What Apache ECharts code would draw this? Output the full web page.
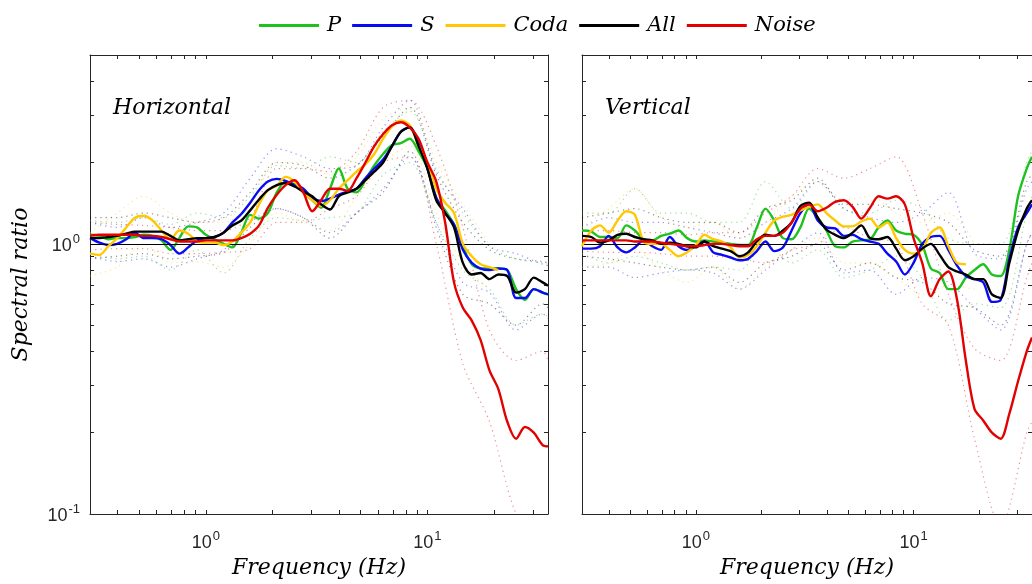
<!DOCTYPE html>
<html><head><meta charset="utf-8">
<script src="https://cdn.jsdelivr.net/npm/echarts@6/dist/echarts.min.js"></script>
<style>html,body{margin:0;padding:0;background:#fff}#c{width:1032px;height:584px}</style>
</head><body><div id="c"></div>
<script>
// Frequency sampling (Hz) for the mean curves
const freq = [0.3,0.331,0.363,0.398,0.437,0.479,0.525,0.575,0.631,0.692,0.759,0.832,0.912,1.0,1.096,1.202,1.318,1.445,1.585,1.738,1.905,2.089,2.291,2.512,2.754,3.020,3.311,3.631,3.981,4.365,4.786,5.248,5.754,6.310,6.918,7.586,8.318,9.120,10.0,10.96,12.02,13.18,14.45,15.85,17.38,19.05,20.89,22.91,25.12,27.54,30.20,33.11,35.0];
// Frequency sampling (Hz) for the dotted spread curves
const freqBand = [0.3,0.398,0.525,0.692,0.912,1.202,1.585,2.089,2.754,3.631,4.786,6.310,8.318,10.96,14.45,19.05,25.12,33.11,35.0];

// Horizontal panel
const hP = [1.08,1.07,1.04,1.05,1.05,1.06,1.08,1.07,1.03,0.95,1.05,1.16,1.15,1.08,1.04,1.0,0.97,1.1,1.28,1.24,1.30,1.55,1.70,1.66,1.55,1.45,1.36,1.6,1.9,1.6,1.55,1.72,1.95,2.15,2.32,2.36,2.45,2.2,1.9,1.48,1.33,1.18,0.98,0.84,0.81,0.81,0.81,0.80,0.68,0.62,0.68,0.66,0.65];
const hS = [1.05,1.01,0.99,1.0,1.04,1.1,1.05,1.05,1.04,0.99,0.92,0.97,1.03,1.05,1.06,1.1,1.2,1.29,1.42,1.58,1.7,1.74,1.71,1.65,1.6,1.48,1.44,1.47,1.52,1.56,1.6,1.75,1.9,2.05,2.3,2.6,2.7,2.35,1.9,1.48,1.3,1.18,0.95,0.85,0.81,0.8,0.81,0.8,0.63,0.63,0.68,0.66,0.65];
const hCoda = [0.92,0.91,0.98,1.05,1.15,1.25,1.27,1.22,1.12,1.04,1.12,1.09,1.02,1.01,1.01,0.99,1.02,1.1,1.2,1.4,1.58,1.64,1.77,1.70,1.55,1.45,1.38,1.45,1.6,1.72,1.85,1.97,2.15,2.45,2.72,2.86,2.75,2.3,2.0,1.6,1.42,1.3,1.0,0.9,0.84,0.82,0.80];
const hAll = [1.05,1.05,1.06,1.07,1.09,1.11,1.11,1.11,1.11,1.07,1.03,1.04,1.05,1.05,1.06,1.10,1.17,1.22,1.33,1.46,1.58,1.65,1.68,1.63,1.56,1.5,1.4,1.34,1.5,1.55,1.6,1.72,1.85,2.0,2.3,2.6,2.7,2.3,1.9,1.45,1.3,1.15,0.85,0.77,0.78,0.74,0.77,0.76,0.66,0.68,0.75,0.72,0.70];
const hNoise = [1.07,1.08,1.08,1.08,1.08,1.08,1.07,1.07,1.06,1.04,1.02,1.02,1.02,1.03,1.03,1.03,1.03,1.05,1.09,1.17,1.36,1.52,1.65,1.72,1.55,1.32,1.45,1.6,1.6,1.57,1.75,2.0,2.3,2.55,2.75,2.82,2.7,2.45,2.0,1.7,1.2,0.72,0.58,0.52,0.44,0.34,0.29,0.22,0.19,0.21,0.2,0.18,0.178];

const hPUp = [1.22,1.2,1.25,1.18,1.3,1.25,1.5,1.95,1.9,2.1,2.0,2.6,3.1,1.9,1.3,0.98,0.88,0.85,0.84];
const hPLo = [0.92,0.88,0.9,0.8,0.95,0.78,1.05,1.25,1.22,1.25,1.3,1.8,2.0,1.2,0.8,0.68,0.5,0.55,0.54];
const hSUp = [1.2,1.15,1.25,1.15,1.2,1.3,1.75,2.25,2.1,1.9,1.95,2.7,3.4,1.85,1.35,0.98,0.92,0.84,0.83];
const hSLo = [0.9,0.86,0.88,0.82,0.88,0.95,1.2,1.35,1.25,1.1,1.3,1.6,2.1,1.2,0.72,0.66,0.48,0.55,0.53];
const hCodaUp = [1.1,1.3,1.5,1.3,1.2,1.2,1.4,2.0,2.0,1.8,2.1,2.9,3.2,2.0,1.4,1.0];
const hCodaLo = [0.76,0.82,1.0,0.85,0.86,0.82,1.0,1.3,1.2,1.12,1.5,2.0,2.3,1.3,0.85,0.68];
const hAllUp = [1.25,1.25,1.3,1.25,1.2,1.25,1.55,2.0,1.95,1.75,1.95,2.5,3.2,1.8,1.2,0.95,0.88,0.86,0.85];
const hAllLo = [0.88,0.9,0.92,0.88,0.9,0.93,1.15,1.35,1.25,1.05,1.3,1.55,2.2,1.15,0.65,0.6,0.5,0.6,0.58];
const hNoiseUp = [1.2,1.18,1.17,1.15,1.12,1.12,1.25,1.9,1.9,1.85,2.2,3.2,3.4,2.3,1.15,0.48,0.37,0.4,0.37];
const hNoiseLo = [0.95,0.96,0.96,0.92,0.92,0.93,0.96,1.2,1.2,1.35,1.5,2.0,2.1,1.0,0.36,0.22,0.1,0.075,0.07];

// Vertical panel
const vP = [1.12,1.11,1.06,1.06,1.05,1.17,1.12,1.04,1.03,1.07,1.09,1.12,1.05,1.02,1.03,1.02,1.01,1.0,0.99,0.99,1.15,1.35,1.22,1.05,1.04,1.15,1.35,1.25,1.12,0.98,0.97,1.02,1.03,1.04,1.15,1.22,1.12,1.09,1.08,0.99,0.81,0.78,0.68,0.68,0.75,0.8,0.84,0.77,0.76,0.95,1.5,1.9,2.1];
const vS = [0.96,0.96,0.98,1.07,0.97,0.93,0.97,1.03,0.98,0.95,1.06,0.98,0.95,0.98,1.02,0.93,0.91,0.89,0.87,0.88,0.94,1.02,0.94,0.97,1.12,1.3,1.4,1.22,1.15,1.14,1.07,1.08,1.04,1.02,1.0,0.92,0.86,0.77,0.85,1.0,1.06,1.07,0.95,0.83,0.76,0.74,0.72,0.61,0.62,0.88,1.15,1.3,1.4];
const vCoda = [0.98,1.12,1.17,1.1,1.22,1.32,1.28,1.02,1.0,1.0,0.95,0.9,0.93,0.99,1.08,1.04,1.02,0.97,0.89,0.91,0.98,1.1,1.22,1.26,1.28,1.33,1.37,1.4,1.3,1.22,1.16,1.16,1.21,1.24,1.15,1.2,1.05,0.95,0.92,0.95,1.1,1.15,0.98,0.85,0.84];
const vAll = [1.07,1.06,1.01,1.03,1.08,1.09,1.06,1.04,1.03,1.0,1.01,1.0,0.98,0.97,1.02,0.98,0.96,0.94,0.9,0.93,1.02,1.08,1.07,1.12,1.2,1.38,1.42,1.25,1.13,1.08,1.05,1.1,1.17,1.05,1.04,1.06,0.96,0.87,0.9,0.96,1.0,0.91,0.82,0.79,0.77,0.74,0.74,0.65,0.63,0.85,1.12,1.35,1.45];
const vNoise = [1.03,1.03,1.03,1.03,1.03,1.03,1.02,1.02,1.02,1.01,1.0,0.99,0.98,0.98,0.99,1.0,1.0,0.99,0.98,0.98,1.04,1.07,1.07,1.1,1.2,1.35,1.4,1.32,1.36,1.43,1.45,1.37,1.24,1.36,1.5,1.47,1.5,1.4,1.05,0.85,0.64,0.74,0.79,0.62,0.37,0.245,0.222,0.2,0.19,0.235,0.31,0.4,0.45];

const vPUp = [1.3,1.3,1.6,1.3,1.3,1.2,1.2,1.7,1.35,1.7,1.35,1.3,1.45,1.35,1.05,1.0,1.0,2.0,2.2];
const vPLo = [0.92,0.85,0.9,0.85,0.8,0.82,0.8,1.0,0.85,0.95,0.75,0.8,0.9,0.75,0.52,0.6,0.58,1.3,1.5];
const vSUp = [1.15,1.25,1.2,1.2,1.15,1.1,1.05,1.2,1.35,1.7,1.35,1.25,1.2,1.3,1.55,0.92,0.88,1.6,1.7];
const vSLo = [0.82,0.82,0.75,0.78,0.8,0.78,0.68,0.8,0.95,1.1,0.78,0.8,0.65,0.75,0.72,0.58,0.48,1.0,1.1];
const vCodaUp = [1.15,1.35,1.6,1.25,1.15,1.2,1.05,1.2,1.5,1.7,1.45,1.5,1.3,1.2,1.3,1.0];
const vCodaLo = [0.82,0.85,0.95,0.8,0.72,0.82,0.68,0.82,0.95,1.05,0.85,0.85,0.75,0.65,0.7,0.68];
const vAllUp = [1.25,1.3,1.35,1.25,1.2,1.2,1.1,1.35,1.45,1.75,1.4,1.4,1.35,1.3,1.2,0.95,0.9,1.7,1.8];
const vAllLo = [0.9,0.88,0.85,0.82,0.8,0.82,0.72,0.85,0.9,1.0,0.8,0.85,0.75,0.72,0.6,0.58,0.5,1.0,1.1];
const vNoiseUp = [1.12,1.12,1.1,1.1,1.08,1.1,1.1,1.3,1.5,1.9,1.75,1.9,2.1,1.3,0.65,0.41,0.37,0.75,0.85];
const vNoiseLo = [0.94,0.93,0.93,0.92,0.9,0.9,0.88,0.85,0.95,1.0,1.15,1.05,1.0,0.6,0.5,0.19,0.09,0.2,0.22];

// Axis ticks and labels
const xTickValues = [0.3,0.4,0.5,0.6,0.7,0.8,0.9,1,2,3,4,5,6,7,8,9,10,20,30];
const xLabelValues = [1,10];
const yTickValues = [0.1,0.2,0.3,0.4,0.5,0.6,0.7,0.8,0.9,1,2,3,4,5];
const yLabelValues = [0.1,1];

const seriesNames = ['P','S','Coda','All','Noise'];
const colors = ['#1ec21e','#0a0af5','#ffc800','#000000','#e30000'];
const panelTitles = ['Horizontal','Vertical'];
const xName = 'Frequency (Hz)';
const yName = 'Spectral ratio';

const mean = [[hP,hS,hCoda,hAll,hNoise],[vP,vS,vCoda,vAll,vNoise]];
const bandUp = [[hPUp,hSUp,hCodaUp,hAllUp,hNoiseUp],[vPUp,vSUp,vCodaUp,vAllUp,vNoiseUp]];
const bandLo = [[hPLo,hSLo,hCodaLo,hAllLo,hNoiseLo],[vPLo,vSLo,vCodaLo,vAllLo,vNoiseLo]];

const axisColor = '#262626';
const serifFont = 'DejaVu Serif';
const labelFmt = function (v) {
  const e = Math.round(Math.log10(v));
  return '{b|10}{s|' + e + '}';
};
const labelRich = {
  b: {fontSize: 18, fontFamily: 'Liberation Sans', color: axisColor, lineHeight: 22, verticalAlign: 'bottom'},
  s: {fontSize: 13, fontFamily: 'Liberation Sans', color: axisColor, lineHeight: 22, verticalAlign: 'top', padding: [0,0,0,1]}
};

function xAxisDef(gridIndex, position, showLabel) {
  return {
    type: 'log', logBase: 10, gridIndex: gridIndex, position: position, min: 0.3, max: 35,
    axisLine: {show: true, onZero: false, lineStyle: {color: axisColor, width: 1}},
    axisTick: {show: true, inside: true, length: 4, customValues: xTickValues, lineStyle: {color: axisColor}},
    axisLabel: {show: showLabel, customValues: xLabelValues, formatter: labelFmt, rich: labelRich, margin: 16},
    splitLine: {show: false},
    name: showLabel ? xName : '', nameLocation: 'middle', nameGap: 43,
    nameTextStyle: {fontFamily: serifFont, fontStyle: 'italic', fontSize: 22, color: '#000'}
  };
}
function yAxisDef(gridIndex, position, showLabel, withName) {
  return {
    type: 'log', logBase: 10, gridIndex: gridIndex, position: position, min: 0.1, max: 5,
    axisLine: {show: true, onZero: false, lineStyle: {color: axisColor, width: 1}},
    axisTick: {show: true, inside: true, length: 4, customValues: yTickValues, lineStyle: {color: axisColor}},
    axisLabel: {show: showLabel, customValues: yLabelValues, formatter: labelFmt, rich: labelRich, margin: 10},
    splitLine: {show: false},
    name: withName ? yName : '', nameLocation: 'middle', nameGap: 58,
    nameTextStyle: {fontFamily: serifFont, fontStyle: 'italic', fontSize: 22, color: '#000'}
  };
}

const grids = [
  {left: 90, top: 55, width: 458, height: 463},
  {left: 582, top: 55, width: 458, height: 463}
];
const xAxes = [xAxisDef(0,'bottom',true), xAxisDef(0,'top',false), xAxisDef(1,'bottom',true), xAxisDef(1,'top',false)];
const yAxes = [yAxisDef(0,'left',true,true), yAxisDef(0,'right',false,false), yAxisDef(1,'left',false,false), yAxisDef(1,'right',false,false)];

const series = [];
for (let p = 0; p < 2; p++) {
  const xi = p * 2, yi = p * 2;
  for (let k = 0; k < 5; k++) {
    [bandUp[p][k], bandLo[p][k]].forEach(function (arr, j) {
      series.push({
        name: seriesNames[k] + (j ? ' lo ' : ' hi ') + p,
        type: 'line', xAxisIndex: xi, yAxisIndex: yi, symbol: 'none', smooth: 0.3, silent: true,
        data: arr.map(function (v, i) { return [freqBand[i], v]; }),
        lineStyle: {width: 1.2, type: [1.2, 4], color: colors[k], opacity: 0.45},
        z: 1
      });
    });
  }
  for (let k = 0; k < 5; k++) {
    const s = {
      name: seriesNames[k], type: 'line', xAxisIndex: xi, yAxisIndex: yi, symbol: 'none', smooth: 0.3,
      data: mean[p][k].map(function (v, i) { return [freq[i], v]; }),
      lineStyle: {width: 2.4, color: colors[k]}, itemStyle: {color: colors[k]},
      z: 3 + k
    };
    if (k === 0) {
      s.markLine = {silent: true, symbol: 'none', label: {show: false},
        lineStyle: {color: '#000', width: 1, type: 'solid'}, data: [{yAxis: 1}]};
    }
    series.push(s);
  }
}

const chart = echarts.init(document.getElementById('c'), null, {renderer: 'canvas'});
chart.setOption({
  animation: false,
  backgroundColor: '#fff',
  legend: {
    data: seriesNames, top: 15, left: 259, padding: 0, itemWidth: 60, itemHeight: 3, itemGap: 11, icon: 'rect',
    textStyle: {fontFamily: serifFont, fontStyle: 'italic', fontSize: 21, color: '#000', padding: [0,0,0,3]}
  },
  graphic: [
    {type: 'text', left: 113, top: 97, style: {text: panelTitles[0], font: 'italic 22px "DejaVu Serif"', fill: '#000'}},
    {type: 'text', left: 605, top: 97, style: {text: panelTitles[1], font: 'italic 22px "DejaVu Serif"', fill: '#000'}}
  ],
  grid: grids,
  xAxis: xAxes,
  yAxis: yAxes,
  series: series
});
</script>
</body></html>
